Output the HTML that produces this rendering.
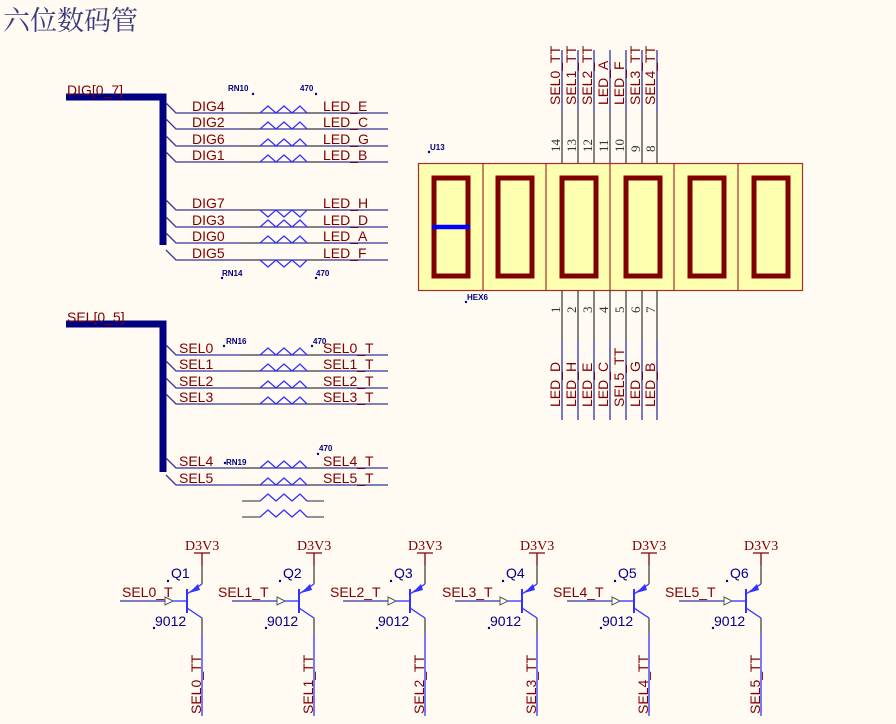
<!DOCTYPE html>
<html><head><meta charset="utf-8"><style>
html,body{margin:0;padding:0;background:#fffaf2;}
svg{display:block;}
.l{font-family:"Liberation Sans",sans-serif;font-size:14px;fill:#800000;}
.s{font-family:"Liberation Sans",sans-serif;font-size:8px;fill:#000080;font-weight:bold;}
.q{font-family:"Liberation Sans",sans-serif;font-size:14px;fill:#000080;}
.n{font-family:"Liberation Serif",serif;font-size:13px;fill:#333;}
.d{font-family:"Liberation Serif",serif;font-size:14px;fill:#800000;}
</style></head><body>
<svg width="896" height="724" viewBox="0 0 896 724" xmlns="http://www.w3.org/2000/svg">
<rect width="896" height="724" fill="#fffaf2"/>
<text x="3" y="30" style="font-family:'Liberation Serif','Noto Serif CJK SC',serif;font-size:27px;fill:#3a3a7a">六位数码管</text>

<path d="M66 97 H163 V245" stroke="#000080" stroke-width="7" fill="none"/>
<text x="67" y="95" class="l">DIG[0_7]</text>
<g stroke="#333399" stroke-width="1.3" fill="none">
<path d="M166 103 L176 113 H388"/><path d="M166 119 L176 129 H388"/><path d="M166 136 L176 146 H388"/><path d="M166 152 L176 162 H388"/>
<path d="M166 200 L176 210 H388"/><path d="M166 217 L176 227 H388"/><path d="M166 233 L176 243 H388"/><path d="M166 250 L176 260 H388"/>
</g>
<g stroke="#555" stroke-width="1.3"><path d="M242 113h18M307 113h16M242 129h18M307 129h16M242 146h18M307 146h16M242 162h18M307 162h16M242 210h18M307 210h16M242 227h18M307 227h16M242 243h18M307 243h16M242 260h18M307 260h16"/></g>
<g stroke="#3333ff" stroke-width="1.3" fill="none">
<path d="M260 113 l8 -7 l8 7 l8 -7 l8 7 l8 -7 l7 7"/>
<path d="M260 129 l8 -7 l8 7 l8 -7 l8 7 l8 -7 l7 7"/>
<path d="M260 146 l8 -7 l8 7 l8 -7 l8 7 l8 -7 l7 7"/>
<path d="M260 162 l8 -7 l8 7 l8 -7 l8 7 l8 -7 l7 7"/>
<path d="M260 210 l8 7 l8 -7 l8 7 l8 -7 l8 7 l7 -7"/>
<path d="M260 227 l8 -7 l8 7 l8 -7 l8 7 l8 -7 l7 7"/>
<path d="M260 243 l8 -7 l8 7 l8 -7 l8 7 l8 -7 l7 7"/>
<path d="M260 260 l8 7 l8 -7 l8 7 l8 -7 l8 7 l7 -7"/>
</g>
<g class="l">
<text x="192" y="111">DIG4</text><text x="192" y="127">DIG2</text><text x="192" y="144">DIG6</text><text x="192" y="160">DIG1</text>
<text x="192" y="208">DIG7</text><text x="192" y="225">DIG3</text><text x="192" y="241">DIG0</text><text x="192" y="258">DIG5</text>
<text x="323" y="111">LED_E</text><text x="323" y="127">LED_C</text><text x="323" y="144">LED_G</text><text x="323" y="160">LED_B</text>
<text x="323" y="208">LED_H</text><text x="323" y="225">LED_D</text><text x="323" y="241">LED_A</text><text x="323" y="258">LED_F</text>
</g>
<text x="228" y="91" class="s">RN10</text><circle cx="253" cy="94" r="1.2" fill="#000080"/>
<text x="300" y="91" class="s">470</text><circle cx="316" cy="94" r="1.2" fill="#000080"/>
<text x="222" y="276" class="s">RN14</text><circle cx="222" cy="278" r="1.2" fill="#000080"/>
<text x="316" y="276" class="s">470</text><circle cx="316" cy="278" r="1.2" fill="#000080"/>

<path d="M66 324 H163 V472" stroke="#000080" stroke-width="7" fill="none"/>
<text x="67" y="322" class="l">SEL[0_5]</text>
<g stroke="#333399" stroke-width="1.3" fill="none">
<path d="M166 345 L176 355 H388"/><path d="M166 361 L176 371 H388"/><path d="M166 378 L176 388 H388"/><path d="M166 394 L176 404 H388"/>
<path d="M166 458 L176 468 H388"/><path d="M166 475 L176 485 H388"/>
</g>
<g stroke="#555" stroke-width="1.3"><path d="M242 355h18M307 355h16M242 371h18M307 371h16M242 388h18M307 388h16M242 404h18M307 404h16M242 468h18M307 468h16M242 485h18M307 485h16M242 501h18M307 501h17M242 517h18M307 517h17"/></g>
<g stroke="#3333ff" stroke-width="1.3" fill="none">
<path d="M260 355 l8 -7 l8 7 l8 -7 l8 7 l8 -7 l7 7"/>
<path d="M260 371 l8 -7 l8 7 l8 -7 l8 7 l8 -7 l7 7"/>
<path d="M260 388 l8 -7 l8 7 l8 -7 l8 7 l8 -7 l7 7"/>
<path d="M260 404 l8 -7 l8 7 l8 -7 l8 7 l8 -7 l7 7"/>
<path d="M260 468 l8 -7 l8 7 l8 -7 l8 7 l8 -7 l7 7"/>
<path d="M260 485 l8 -7 l8 7 l8 -7 l8 7 l8 -7 l7 7"/>
<path d="M260 501 l8 -7 l8 7 l8 -7 l8 7 l8 -7 l7 7"/>
<path d="M260 517 l8 -7 l8 7 l8 -7 l8 7 l8 -7 l7 7"/>
</g>
<g class="l">
<text x="179" y="353">SEL0</text><text x="179" y="369">SEL1</text><text x="179" y="386">SEL2</text><text x="179" y="402">SEL3</text>
<text x="179" y="466">SEL4</text><text x="179" y="483">SEL5</text>
<text x="323" y="353">SEL0_T</text><text x="323" y="369">SEL1_T</text><text x="323" y="386">SEL2_T</text><text x="323" y="402">SEL3_T</text>
<text x="323" y="466">SEL4_T</text><text x="323" y="483">SEL5_T</text>
</g>
<text x="226" y="344" class="s">RN16</text><circle cx="224" cy="346" r="1.2" fill="#000080"/>
<text x="313" y="344" class="s">470</text><circle cx="312" cy="346" r="1.2" fill="#000080"/>
<text x="226" y="465" class="s">RN19</text><circle cx="225" cy="463" r="1.2" fill="#000080"/>
<text x="319" y="451" class="s">470</text><circle cx="318" cy="454" r="1.2" fill="#000080"/>

<rect x="418.5" y="163.5" width="384" height="127" fill="#ffffb0" stroke="#a03030" stroke-width="1.2"/>
<g stroke="#a03030" stroke-width="1.2"><path d="M483 163v127M546 163v127M610 163v127M674 163v127M738 163v127"/></g>
<g fill="none" stroke="#800000" stroke-width="5">
<rect x="434" y="178" width="34" height="98"/><rect x="498" y="178" width="34" height="98"/><rect x="562" y="178" width="34" height="98"/>
<rect x="626" y="178" width="34" height="98"/><rect x="690" y="178" width="34" height="98"/><rect x="754" y="178" width="34" height="98"/>
</g>
<path d="M434 227H468" stroke="#0000ff" stroke-width="4.5" stroke-linecap="round"/>
<text x="430" y="150" class="s">U13</text><circle cx="429" cy="152" r="1.2" fill="#000080"/>
<text x="467" y="300" class="s">HEX6</text><circle cx="466" cy="302" r="1.2" fill="#000080"/>
<g stroke="#333399" stroke-width="1.3"><path d="M562 50V113M578 50V113M594 50V113M610 50V113M626 50V113M642 50V113M657 50V113M562 340V420M578 340V420M594 340V420M610 340V420M626 340V420M642 340V420M657 340V420"/></g>
<g stroke="#444" stroke-width="1.3"><path d="M562 113V163M578 113V163M594 113V163M610 113V163M626 113V163M642 113V163M657 113V163M562 290V340M578 290V340M594 290V340M610 290V340M626 290V340M642 290V340M657 290V340"/></g>
<g class="n">
<text transform="translate(560,152) rotate(-90)">14</text><text transform="translate(576,152) rotate(-90)">13</text><text transform="translate(592,152) rotate(-90)">12</text><text transform="translate(608,152) rotate(-90)">11</text><text transform="translate(624,152) rotate(-90)">10</text><text transform="translate(640,152) rotate(-90)">9</text><text transform="translate(655,152) rotate(-90)">8</text>
<text transform="translate(560,313) rotate(-90)">1</text><text transform="translate(576,313) rotate(-90)">2</text><text transform="translate(592,313) rotate(-90)">3</text><text transform="translate(608,313) rotate(-90)">4</text><text transform="translate(624,313) rotate(-90)">5</text><text transform="translate(640,313) rotate(-90)">6</text><text transform="translate(655,313) rotate(-90)">7</text>
</g>
<g class="l">
<text transform="translate(560,105) rotate(-90)">SEL0_TT</text><text transform="translate(576,105) rotate(-90)">SEL1_TT</text><text transform="translate(592,105) rotate(-90)">SEL2_TT</text><text transform="translate(608,105) rotate(-90)">LED_A</text><text transform="translate(624,105) rotate(-90)">LED_F</text><text transform="translate(640,105) rotate(-90)">SEL3_TT</text><text transform="translate(655,105) rotate(-90)">SEL4_TT</text>
<text transform="translate(560,407) rotate(-90)">LED_D</text><text transform="translate(576,407) rotate(-90)">LED_H</text><text transform="translate(592,407) rotate(-90)">LED_E</text><text transform="translate(608,407) rotate(-90)">LED_C</text><text transform="translate(624,407) rotate(-90)">SEL5_TT</text><text transform="translate(640,407) rotate(-90)">LED_G</text><text transform="translate(655,407) rotate(-90)">LED_B</text>
</g>

<defs>
<g id="tr">
<path d="M-82 601H-37" stroke="#3333aa" stroke-width="1.3"/>
<path d="M-37 597 L-29 601 L-37 605 Z" fill="#fff" stroke="#555" stroke-width="1"/>
<path d="M-29 601H-15" stroke="#3333ff" stroke-width="1.3"/>
<path d="M-15 589V613" stroke="#3333ff" stroke-width="2"/>
<path d="M-15 594 L0 584" stroke="#3333ff" stroke-width="1.3"/>
<path d="M-13 593 L-4 584 L-2 590 Z" fill="#3333ff"/>
<path d="M0 584V565" stroke="#444" stroke-width="1.3"/>
<path d="M0 565V553M-8 553H8" stroke="#800000" stroke-width="1.3"/>
<path d="M-15 608 L0 618" stroke="#3333ff" stroke-width="1.3"/>
<path d="M0 618V634" stroke="#444" stroke-width="1.3"/>
<path d="M0 634V716" stroke="#3333ff" stroke-width="1.3"/>
<circle cx="-34" cy="581" r="1.2" fill="#000080"/>
<circle cx="-48" cy="628" r="1.2" fill="#000080"/>
</g>
</defs>
<use href="#tr" x="202"/><use href="#tr" x="314"/><use href="#tr" x="425"/><use href="#tr" x="537"/><use href="#tr" x="649"/><use href="#tr" x="761"/>
<g class="d"><text x="185" y="550">D3V3</text><text x="297" y="550">D3V3</text><text x="408" y="550">D3V3</text><text x="520" y="550">D3V3</text><text x="632" y="550">D3V3</text><text x="744" y="550">D3V3</text></g>
<g class="q">
<text x="171" y="578">Q1</text><text x="283" y="578">Q2</text><text x="394" y="578">Q3</text><text x="506" y="578">Q4</text><text x="618" y="578">Q5</text><text x="730" y="578">Q6</text>
<text x="155" y="626">9012</text><text x="267" y="626">9012</text><text x="378" y="626">9012</text><text x="490" y="626">9012</text><text x="602" y="626">9012</text><text x="714" y="626">9012</text>
</g>
<g class="l">
<text x="122" y="597">SEL0_T</text><text x="218" y="597">SEL1_T</text><text x="330" y="597">SEL2_T</text><text x="442" y="597">SEL3_T</text><text x="553" y="597">SEL4_T</text><text x="665" y="597">SEL5_T</text>
<text transform="translate(201,714) rotate(-90)">SEL0_TT</text><text transform="translate(313,714) rotate(-90)">SEL1_TT</text><text transform="translate(424,714) rotate(-90)">SEL2_TT</text><text transform="translate(536,714) rotate(-90)">SEL3_TT</text><text transform="translate(648,714) rotate(-90)">SEL4_TT</text><text transform="translate(760,714) rotate(-90)">SEL5_TT</text>
</g>
</svg>
</body></html>
